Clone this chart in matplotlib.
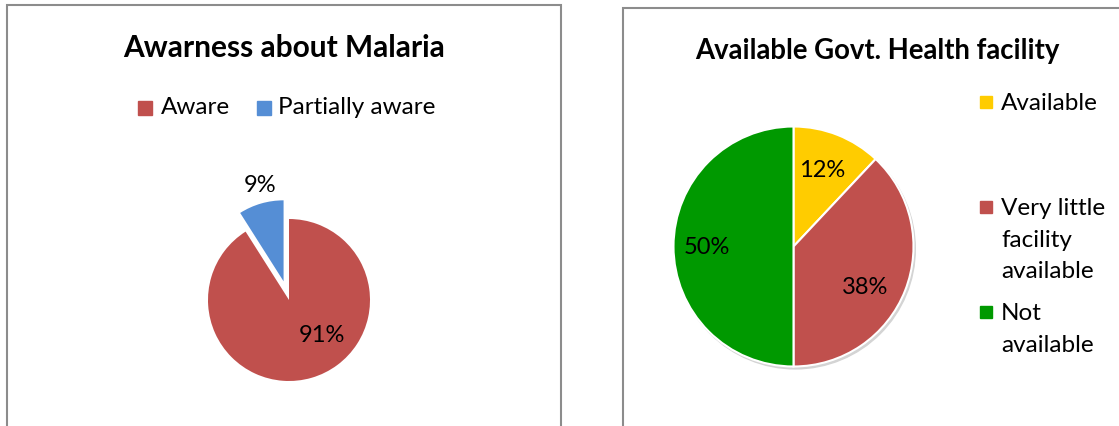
import matplotlib.pyplot as plt
from matplotlib.patches import Rectangle, Circle

# data
aware_labels = ["Aware", "Partially aware"]
aware_values = [91, 9]
aware_colors = ["#C0504D", "#558ED5"]

facility_labels = ["Available", "Very little\nfacility\navailable", "Not\navailable"]
facility_values = [12, 38, 50]
facility_colors = ["#FFCC00", "#C0504D", "#009900"]

W, H = 1119, 427
FRAME = "#8C8C8C"

plt.rcParams["font.family"] = ["Lato", "DejaVu Sans"]
fig = plt.figure(figsize=(W / 100, H / 100), dpi=100)


def fx(x):
    return x / W


def fy(y):
    # image pixel row (from top) -> figure fraction
    return 1 - y / H


def px_axes(cx, cy, half):
    ax = fig.add_axes([fx(cx - half), fy(cy + half), 2 * half / W, 2 * half / H])
    ax.set_axis_off()
    return ax


# panel frames (they run off the bottom / right edge of the picture)
fig.add_artist(Rectangle((fx(7), -0.1), fx(554), fy(6) + 0.1,
                         transform=fig.transFigure, fill=False,
                         edgecolor=FRAME, linewidth=1.5))
fig.add_artist(Rectangle((fx(623), -0.1), 1.0, fy(9) + 0.1,
                         transform=fig.transFigure, fill=False,
                         edgecolor=FRAME, linewidth=1.5))

# ---- left chart: awareness ----
fig.text(fx(284), fy(48), "Awarness about Malaria", ha="center", va="center",
         fontsize=21.5, fontweight="bold")

ax1 = px_axes(289, 301, 130)
w1, t1, a1 = ax1.pie(aware_values, colors=aware_colors, startangle=90,
                     counterclock=False, explode=[0, 0.24], autopct="%.0f%%",
                     textprops=dict(fontsize=17),
                     wedgeprops=dict(linewidth=0))
lim = 130 / 81
ax1.set_xlim(-lim, lim)
ax1.set_ylim(-lim, lim)
for txt, pos in zip(a1, [(0.41, -0.43), (-0.36, 1.43)]):
    txt.set_position(pos)

for (sx, tx), lab, col in zip([(138, 161), (257, 278)], aware_labels, aware_colors):
    fig.add_artist(Rectangle((fx(sx), fy(116)), 14 / W, 14 / H,
                             transform=fig.transFigure, color=col))
    fig.text(fx(tx), fy(108), lab, ha="left", va="center", fontsize=17.5)

# ---- right chart: govt. health facility ----
fig.text(fx(877), fy(51), "Available Govt. Health facility", ha="center",
         va="center", fontsize=19.8, fontweight="bold")

ax2 = px_axes(793.5, 247.5, 144)
ax2.add_patch(Circle((0.015, -0.02), 1.0, color="#D4D4D4", zorder=0))
w2, t2, a2 = ax2.pie(facility_values, colors=facility_colors, startangle=90,
                     counterclock=False, autopct="%.0f%%",
                     textprops=dict(fontsize=17),
                     wedgeprops=dict(edgecolor="white", linewidth=1.5))
ax2.set_xlim(-1.2, 1.2)
ax2.set_ylim(-1.2, 1.2)
for txt, pos in zip(a2, [(0.24, 0.64), (0.6, -0.33), (-0.72, 0.0)]):
    txt.set_position(pos)

for sy, lab, col in zip([103, 208, 313], facility_labels, facility_colors):
    fig.add_artist(Rectangle((fx(980), fy(sy + 6)), 12 / W, 12 / H,
                             transform=fig.transFigure, color=col))
    fig.text(fx(1001), fy(sy - 10), lab, ha="left", va="top", fontsize=17.5,
             linespacing=1.62)

fig.savefig("out.png", dpi=100)
